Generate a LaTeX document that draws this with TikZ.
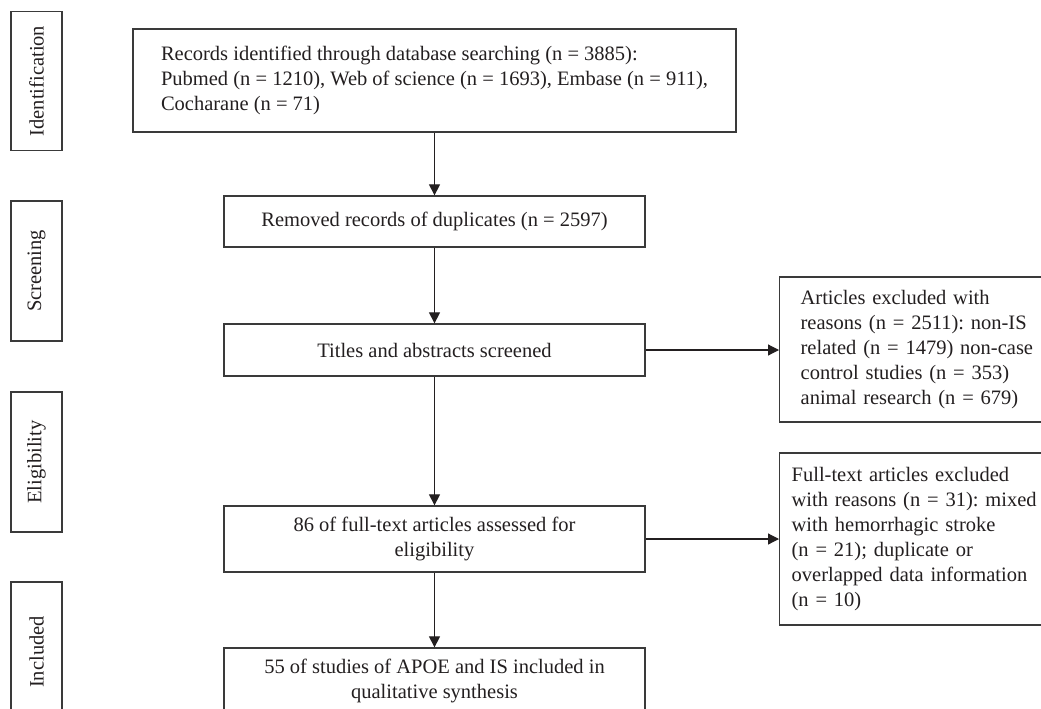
\documentclass[tikz,border=0pt]{standalone}
\usepackage{fontspec}
\setmainfont{Liberation Serif}
\usetikzlibrary{arrows.meta}
\definecolor{ink}{HTML}{231F20}
\definecolor{edge}{HTML}{3A3A3A}
\frenchspacing
\begin{document}
\begin{tikzpicture}[x=1pt,y=1pt,
  txt/.style={font=\frenchspacing\fontsize{20.5}{25}\selectfont, text=ink},
  box/.style={draw=edge, line width=1.3pt, fill=white, txt, inner ysep=0pt},
  cbox/.style={box, align=center, minimum width=421, inner xsep=0pt},
  side/.style={box, minimum width=51, rotate=90, inner xsep=0pt},
  arr/.style={draw=ink, line width=1.2pt, -{Triangle[length=11pt,width=11pt]}}
]
\clip (0,0) rectangle (1041,-709);
\fill[white] (0,0) rectangle (1041,-709);

% phase labels
\node[side, minimum width=139, minimum height=51] (sid) at (36.5,-81) {Identification};
\node[side, minimum width=140, minimum height=51] (sscr) at (36.5,-271) {Screening};
\node[side, minimum width=140, minimum height=51] (selig) at (36.5,-462) {Eligibility};
\node[side, minimum width=140, minimum height=51] (sincl) at (36.5,-652) {Included};

% main flow
\node[box, minimum width=603, minimum height=103, inner xsep=0pt, align=left] (top) at (434.5,-80.5)
 {Records identified through database searching (n = 3885):\\
  Pubmed (n = 1210), Web of science (n = 1693), Embase (n = 911),\\
  Cocharane (n = 71)};
\node[cbox, minimum height=51] (dup) at (434.5,-221.5) {Removed records of duplicates (n = 2597)};
\node[cbox, minimum height=52] (tit) at (434.5,-350) {Titles and abstracts screened};
\node[cbox, minimum height=66] (elig) at (434.5,-539) {86 of full-text articles assessed for\\eligibility};
\node[cbox, minimum height=66] (incl) at (434.5,-681) {55 of studies of APOE and IS included in\\qualitative synthesis};

% exclusion boxes
\node[box, anchor=west, minimum height=145, text width=270, inner xsep=21, align=left] (ex1) at (779,-349.5)
 {Articles excluded with\\
  reasons (n = 2511): non-IS\\
  related (n = 1479) non-case\\
  control studies (n = 353)\\
  animal research (n = 679)};
\node[box, anchor=west, minimum height=172, text width=270, inner xsep=12, align=left] (ex2) at (779,-539)
 {Full-text articles excluded\\
  with reasons (n = 31): mixed\\
  with hemorrhagic stroke\\
  (n = 21); duplicate or\\
  overlapped data information\\
  (n = 10)};

% connectors
\draw[arr] (top) -- (dup);
\draw[arr] (dup) -- (tit);
\draw[arr] (tit) -- (elig);
\draw[arr] (elig) -- (incl);
\draw[arr] (tit.east) -- (tit.east -| ex1.west);
\draw[arr] (elig.east) -- (elig.east -| ex2.west);
\end{tikzpicture}
\end{document}
